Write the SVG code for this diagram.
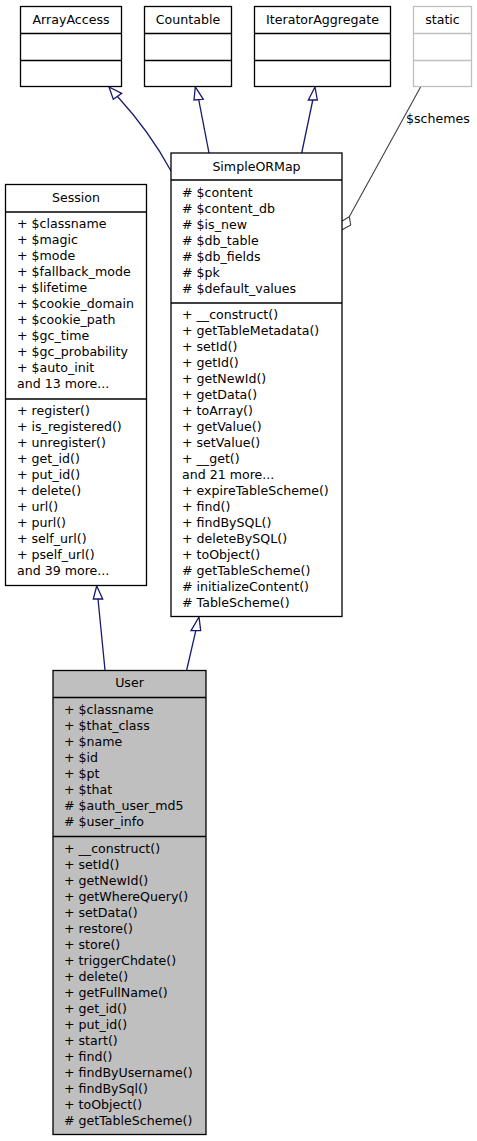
<svg xmlns="http://www.w3.org/2000/svg" width="477" height="1141" viewBox="0 0 477 1141">
<style>
text{font-family:"DejaVu Sans","Liberation Sans",sans-serif;font-size:12.6px;fill:#000}
.t{text-anchor:middle}
.box{fill:#fff;stroke:#000;stroke-width:1.3}
.ghost{fill:#fff;stroke:#bfbfbf;stroke-width:1.3}
.dv{stroke:#000;stroke-width:1.6}
.gdv{stroke:#bfbfbf;stroke-width:1.6}
.inh{fill:none;stroke:#191970;stroke-width:1.3}
.ah{fill:#fff;stroke:#191970;stroke-width:1.3}
.agg{fill:none;stroke:#404040;stroke-width:1.1}
.ad{fill:#fff;stroke:#404040;stroke-width:1.1}
</style>
<rect width="477" height="1141" fill="#fff"/>
<g id="connectors">
<path class="inh" d="M171,171 Q150,132 117.5,96.5"/>
<polygon class="ah" points="109,87 113.3,99.3 121.7,93.3"/>
<path class="inh" d="M209,153 L198.7,99.7"/>
<polygon class="ah" points="195.3,87 194,100 203.3,99.3"/>
<path class="inh" d="M301.7,153 L312.8,100"/>
<polygon class="ah" points="315,87 308.3,100 317.3,100"/>
<path class="inh" d="M105,670 L98,599"/>
<polygon class="ah" points="96.7,586 93.3,599 102.7,599"/>
<path class="inh" d="M186.7,670 L195.8,630.7"/>
<polygon class="ah" points="199,617 191,630.7 200.7,630.7"/>
<path class="agg" d="M420.7,86.7 L349.3,216.7"/>
<polygon class="ad" points="349.3,216.7 350.7,225 341.7,230 341,221.7"/>
<text x="406" y="123">$schemes</text>
</g>
<g id="ArrayAccess">
<rect class="box" x="20.5" y="6.5" width="101" height="80"/>
<line class="dv" x1="20.5" y1="33.5" x2="121.5" y2="33.5"/>
<line class="dv" x1="20.5" y1="60.5" x2="121.5" y2="60.5"/>
<text class="t" x="71" y="24">ArrayAccess</text>
</g>
<g id="Countable">
<rect class="box" x="144.5" y="6.5" width="87" height="80"/>
<line class="dv" x1="144.5" y1="33.5" x2="231.5" y2="33.5"/>
<line class="dv" x1="144.5" y1="60.5" x2="231.5" y2="60.5"/>
<text class="t" x="188" y="24">Countable</text>
</g>
<g id="IteratorAggregate">
<rect class="box" x="254.5" y="6.5" width="136" height="80"/>
<line class="dv" x1="254.5" y1="33.5" x2="390.5" y2="33.5"/>
<line class="dv" x1="254.5" y1="60.5" x2="390.5" y2="60.5"/>
<text class="t" x="322.5" y="24">IteratorAggregate</text>
</g>
<g id="static">
<rect class="ghost" x="413.5" y="6.5" width="58" height="80"/>
<line class="gdv" x1="413.5" y1="33.5" x2="471.5" y2="33.5"/>
<line class="gdv" x1="413.5" y1="60.5" x2="471.5" y2="60.5"/>
<text class="t" x="442.5" y="24">static</text>
</g>
<g id="Session">
<rect class="box" x="5.5" y="184.5" width="141" height="401"/>
<line class="dv" x1="5.5" y1="212" x2="146.5" y2="212"/>
<line class="dv" x1="5.5" y1="399" x2="146.5" y2="399"/>
<text class="t" x="76" y="202">Session</text>
<text x="17" y="228">+ $classname</text>
<text x="17" y="244">+ $magic</text>
<text x="17" y="260">+ $mode</text>
<text x="17" y="276">+ $fallback_mode</text>
<text x="17" y="292">+ $lifetime</text>
<text x="17" y="308">+ $cookie_domain</text>
<text x="17" y="324">+ $cookie_path</text>
<text x="17" y="340">+ $gc_time</text>
<text x="17" y="356">+ $gc_probability</text>
<text x="17" y="372">+ $auto_init</text>
<text x="17" y="388">and 13 more...</text>
<text x="17" y="415">+ register()</text>
<text x="17" y="431">+ is_registered()</text>
<text x="17" y="447">+ unregister()</text>
<text x="17" y="463">+ get_id()</text>
<text x="17" y="479">+ put_id()</text>
<text x="17" y="495">+ delete()</text>
<text x="17" y="511">+ url()</text>
<text x="17" y="527">+ purl()</text>
<text x="17" y="543">+ self_url()</text>
<text x="17" y="559">+ pself_url()</text>
<text x="17" y="575">and 39 more...</text>
</g>
<g id="SimpleORMap">
<rect class="box" x="171" y="153" width="171" height="463.5"/>
<line class="dv" x1="171" y1="180" x2="342" y2="180"/>
<line class="dv" x1="171" y1="303" x2="342" y2="303"/>
<text class="t" x="256.5" y="171">SimpleORMap</text>
<text x="182" y="197"># $content</text>
<text x="182" y="213"># $content_db</text>
<text x="182" y="229"># $is_new</text>
<text x="182" y="245"># $db_table</text>
<text x="182" y="261"># $db_fields</text>
<text x="182" y="277"># $pk</text>
<text x="182" y="293"># $default_values</text>
<text x="182" y="319">+ __construct()</text>
<text x="182" y="335">+ getTableMetadata()</text>
<text x="182" y="351">+ setId()</text>
<text x="182" y="367">+ getId()</text>
<text x="182" y="383">+ getNewId()</text>
<text x="182" y="399">+ getData()</text>
<text x="182" y="415">+ toArray()</text>
<text x="182" y="431">+ getValue()</text>
<text x="182" y="447">+ setValue()</text>
<text x="182" y="463">+ __get()</text>
<text x="182" y="479">and 21 more...</text>
<text x="182" y="495">+ expireTableScheme()</text>
<text x="182" y="511">+ find()</text>
<text x="182" y="527">+ findBySQL()</text>
<text x="182" y="543">+ deleteBySQL()</text>
<text x="182" y="559">+ toObject()</text>
<text x="182" y="575"># getTableScheme()</text>
<text x="182" y="591"># initializeContent()</text>
<text x="182" y="607"># TableScheme()</text>
</g>
<g id="User">
<rect class="box" x="53" y="670.5" width="153" height="464" style="fill:#bfbfbf"/>
<line class="dv" x1="53" y1="697.5" x2="206" y2="697.5"/>
<line class="dv" x1="53" y1="836.5" x2="206" y2="836.5"/>
<text class="t" x="129.5" y="687">User</text>
<text x="64" y="714">+ $classname</text>
<text x="64" y="730">+ $that_class</text>
<text x="64" y="746">+ $name</text>
<text x="64" y="762">+ $id</text>
<text x="64" y="778">+ $pt</text>
<text x="64" y="794">+ $that</text>
<text x="64" y="810"># $auth_user_md5</text>
<text x="64" y="826"># $user_info</text>
<text x="64" y="853">+ __construct()</text>
<text x="64" y="869">+ setId()</text>
<text x="64" y="885">+ getNewId()</text>
<text x="64" y="901">+ getWhereQuery()</text>
<text x="64" y="917">+ setData()</text>
<text x="64" y="933">+ restore()</text>
<text x="64" y="949">+ store()</text>
<text x="64" y="965">+ triggerChdate()</text>
<text x="64" y="981">+ delete()</text>
<text x="64" y="997">+ getFullName()</text>
<text x="64" y="1013">+ get_id()</text>
<text x="64" y="1029">+ put_id()</text>
<text x="64" y="1045">+ start()</text>
<text x="64" y="1061">+ find()</text>
<text x="64" y="1077">+ findByUsername()</text>
<text x="64" y="1093">+ findBySql()</text>
<text x="64" y="1109">+ toObject()</text>
<text x="64" y="1125"># getTableScheme()</text>
</g>
</svg>
